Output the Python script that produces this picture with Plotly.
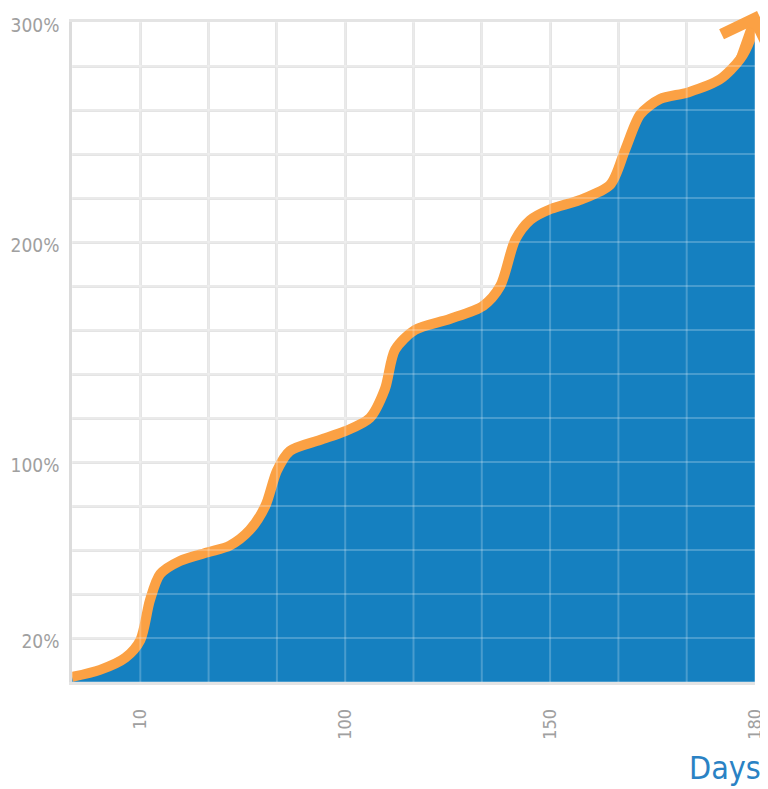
import plotly.graph_objects as go

# ---- data (x in grid-column units, y in percent) ----
curve_x = [0.0, 0.41, 0.78, 1.0, 1.14, 1.29, 1.58, 1.99, 2.31, 2.6, 2.83, 3.0, 3.19, 3.63,
           4.0, 4.36, 4.58, 4.73, 5.02, 5.53, 6.02, 6.27, 6.49, 6.71, 7.01, 7.43, 7.88,
           8.1, 8.32, 8.61, 9.02, 9.49, 9.78, 9.93, 10.03]
curve_y = [2.3, 5.5, 11, 19, 37, 49, 55, 59, 62, 69, 80, 96, 105, 110,
           114, 120, 133, 151, 160, 165, 171, 180, 201, 210, 215, 219, 226,
           242, 258, 265, 268, 274, 283, 292, 305]

x_tickvals = [0, 1, 2, 3, 4, 5, 6, 7, 8, 9, 10]
x_ticktext = ["", "10", "", "", "100", "", "", "150", "", "", "180"]
y_tickvals = list(range(0, 301, 20))
y_ticktext = ["20%" if v == 20 else "100%" if v == 100 else "200%" if v == 200
              else "300%" if v == 300 else "" for v in y_tickvals]

BLUE = "#1580c0"
ORANGE = "#fba144"
GRID = "#e4e4e4"
LABEL = "#a0a0a0"
FONT = "DejaVu Sans Condensed, Roboto, sans-serif"

fig = go.Figure()
fig.add_trace(go.Scatter(
    x=curve_x, y=curve_y, mode="lines",
    line=dict(color=ORANGE, width=10, shape="spline", smoothing=0.8),
    fill="tozeroy", fillcolor=BLUE, hoverinfo="skip", showlegend=False,
))

# translucent grid lines drawn over the filled area
shapes = []
for v in x_tickvals:
    shapes.append(dict(type="line", xref="x", yref="y", x0=v, x1=v, y0=0, y1=300,
                       line=dict(color="rgba(255,255,255,0.22)", width=2), layer="above"))
for v in y_tickvals:
    shapes.append(dict(type="line", xref="x", yref="y", x0=0, x1=10, y0=v, y1=v,
                       line=dict(color="rgba(255,255,255,0.22)", width=2), layer="above"))

# arrowhead at the end of the curve
annotations = [
    dict(x=curve_x[-1], y=curve_y[-1], ax=curve_x[-3], ay=curve_y[-3],
         xref="x", yref="y", axref="x", ayref="y", text="", showarrow=True,
         arrowhead=4, arrowsize=1.1, arrowwidth=9, arrowcolor=ORANGE),
    dict(x=1.0, y=-0.13, xref="paper", yref="paper", xanchor="right", yanchor="middle",
         xshift=8, text="Days", showarrow=False,
         font=dict(family=FONT, size=32, color="#2a82c4")),
]

fig.update_layout(
    width=760, height=781,
    margin=dict(l=64, r=13, t=14, b=107, autoexpand=False),
    paper_bgcolor="white", plot_bgcolor="white",
    shapes=shapes, annotations=annotations,
    xaxis=dict(range=[0, 10], tickvals=x_tickvals, ticktext=x_ticktext,
               tickangle=-90, showgrid=True, gridcolor=GRID, gridwidth=2.5,
               zeroline=False, showline=True, linecolor=GRID, linewidth=2.5,
               mirror=True, ticks="", ticklabelstandoff=17,
               automargin=False,
               tickfont=dict(family=FONT, size=18, color=LABEL), fixedrange=True),
    yaxis=dict(range=[0, 300], tickvals=y_tickvals, ticktext=y_ticktext,
               showgrid=True, gridcolor=GRID, gridwidth=2.5,
               zeroline=False, showline=True, linecolor="#dcdcdc", linewidth=2.5,
               ticks="", ticklabelstandoff=6,
               ticklabelshift=3, automargin=False,
               tickfont=dict(family=FONT, size=19, color=LABEL), fixedrange=True),
)

fig.write_html("out.html")
